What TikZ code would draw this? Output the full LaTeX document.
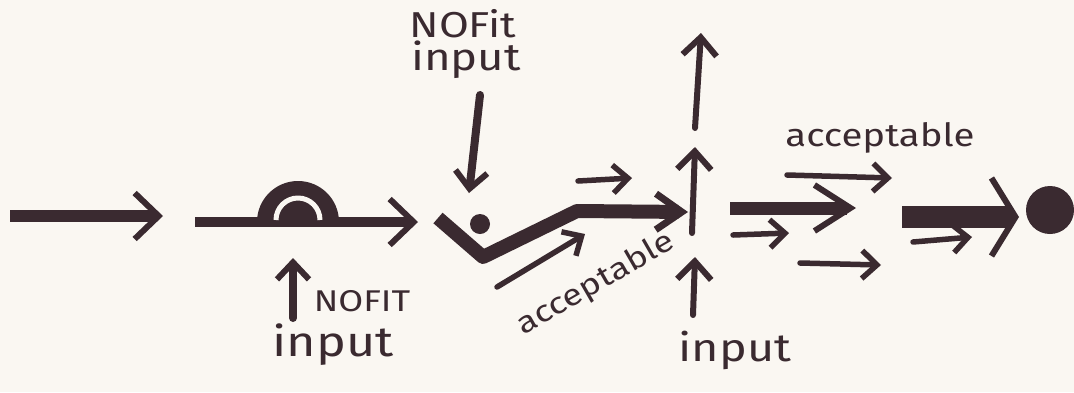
\documentclass[tikz,border=0pt]{standalone}
\usepackage{fontspec}
\setmainfont{Fira Sans}
\newfontfamily\handfont[FakeStretch=1.2]{Fira Sans}
\usetikzlibrary{arrows.meta}
\definecolor{ink}{RGB}{58,42,48}
\definecolor{paper}{RGB}{250,247,242}

\begin{document}
\begin{tikzpicture}[x=1pt,y=-1pt,line cap=round,line join=round,
   fat/.style={draw=ink,line width=12pt,line cap=butt,-{Straight Barb[length=24pt,width=46pt,line width=6pt]}},
   mid/.style={draw=ink,line width=8pt,-{Straight Barb[length=17pt,width=32pt,line width=6pt]}},
   rise/.style={draw=ink,line width=6pt,-{Straight Barb[length=18pt,width=34pt,line width=6pt]}},
   lite/.style={draw=ink,line width=5.5pt,-{Straight Barb[length=15pt,width=28pt,line width=5.5pt]}},
   hand/.style={text=ink,inner sep=0pt}]
  \useasboundingbox (0,0) rectangle (1074,392);
  \fill[paper] (0,0) rectangle (1074,392);

  \coordinate (a0) at (10,216);  \coordinate (a1) at (163,216);
  \coordinate (b0) at (195,222); \coordinate (b1) at (418,222);
  \coordinate (d)  at (298,222);
  \coordinate (n0) at (293,318); \coordinate (n1) at (293,258);
  \coordinate (m0) at (480,95);  \coordinate (m1) at (469,193);
  \coordinate (v0) at (438,218); \coordinate (v1) at (483,257);
  \coordinate (v2) at (577,211); \coordinate (v3) at (688,212);
  \coordinate (s0) at (578,181); \coordinate (s1) at (632,178);
  \coordinate (g0) at (497,287); \coordinate (g1) at (585,234);
  \coordinate (j0) at (692,233); \coordinate (j1) at (695,147);
  \coordinate (t0) at (695,128); \coordinate (t1) at (701,33);
  \coordinate (u0) at (693,315); \coordinate (u1) at (695,257);
  \coordinate (r0) at (787,175); \coordinate (r1) at (892,178);
  \coordinate (p0) at (730,208); \coordinate (p1) at (856,208);
  \coordinate (q0) at (733,235); \coordinate (q1) at (789,233);
  \coordinate (w0) at (800,263); \coordinate (w1) at (881,265);
  \coordinate (z0) at (902,217); \coordinate (z1) at (1019,217);
  \coordinate (y0) at (913,242); \coordinate (y1) at (972,237);

  \draw[fat] (a0) -- (a1);
  \draw[fat,line width=10pt] (b0) -- (b1);
  \fill[ink] (d) ++(-41,0) arc[start angle=180,end angle=360,radius=41] -- cycle;
  \draw[paper,line width=5pt,line cap=butt] (d) ++(-22,-2) arc[start angle=180,end angle=360,radius=22];

  \draw[mid] (n0) -- (n1);
  \node[hand,font=\handfont\fontsize{30}{32}\selectfont] (nofitA) at (362,301) {NOFIT};
  \node[hand,font=\handfont\fontsize{42}{46}\selectfont] (inA) at (333,345) {input};

  \node[hand,font=\handfont\fontsize{36}{40}\selectfont] (nofitB) at (463,24) {NOFit};
  \node[hand,font=\handfont\fontsize{38}{42}\selectfont] (inB) at (466,60) {input};
  \draw[mid] (m0) -- (m1);
  \draw[fat,line width=14pt,-{Straight Barb[length=26pt,width=36pt,line width=7pt]}]
       (v0) -- (v1) -- (v2) -- (v3);
  \fill[ink] (480,224) circle[radius=10];
  \draw[lite] (s0) -- (s1);
  \draw[lite] (g0) -- (g1);
  \node[hand,rotate=30,font=\handfont\fontsize{30}{34}\selectfont] (accA) at (596,284) {acceptable};

  \draw[rise] (j0) -- (j1);
  \draw[rise] (t0) -- (t1);
  \draw[rise] (u0) -- (u1);
  \node[hand,font=\handfont\fontsize{39}{42}\selectfont] (inC) at (735,350) {input};

  \node[hand,font=\handfont\fontsize{32}{36}\selectfont] (accB) at (880,138) {acceptable};
  \draw[lite] (r0) -- (r1);
  \draw[fat,line width=13pt,-{Straight Barb[length=36pt,width=46pt,line width=6pt]}] (p0) -- (p1);
  \draw[lite] (q0) -- (q1);
  \draw[lite] (w0) -- (w1);
  \draw[fat,line width=22pt,-{Straight Barb[length=24pt,width=78pt,line width=6pt]}] (z0) -- (z1);
  \draw[lite] (y0) -- (y1);
  \fill[ink] (1050,210) circle[radius=24];
\end{tikzpicture}
\end{document}
